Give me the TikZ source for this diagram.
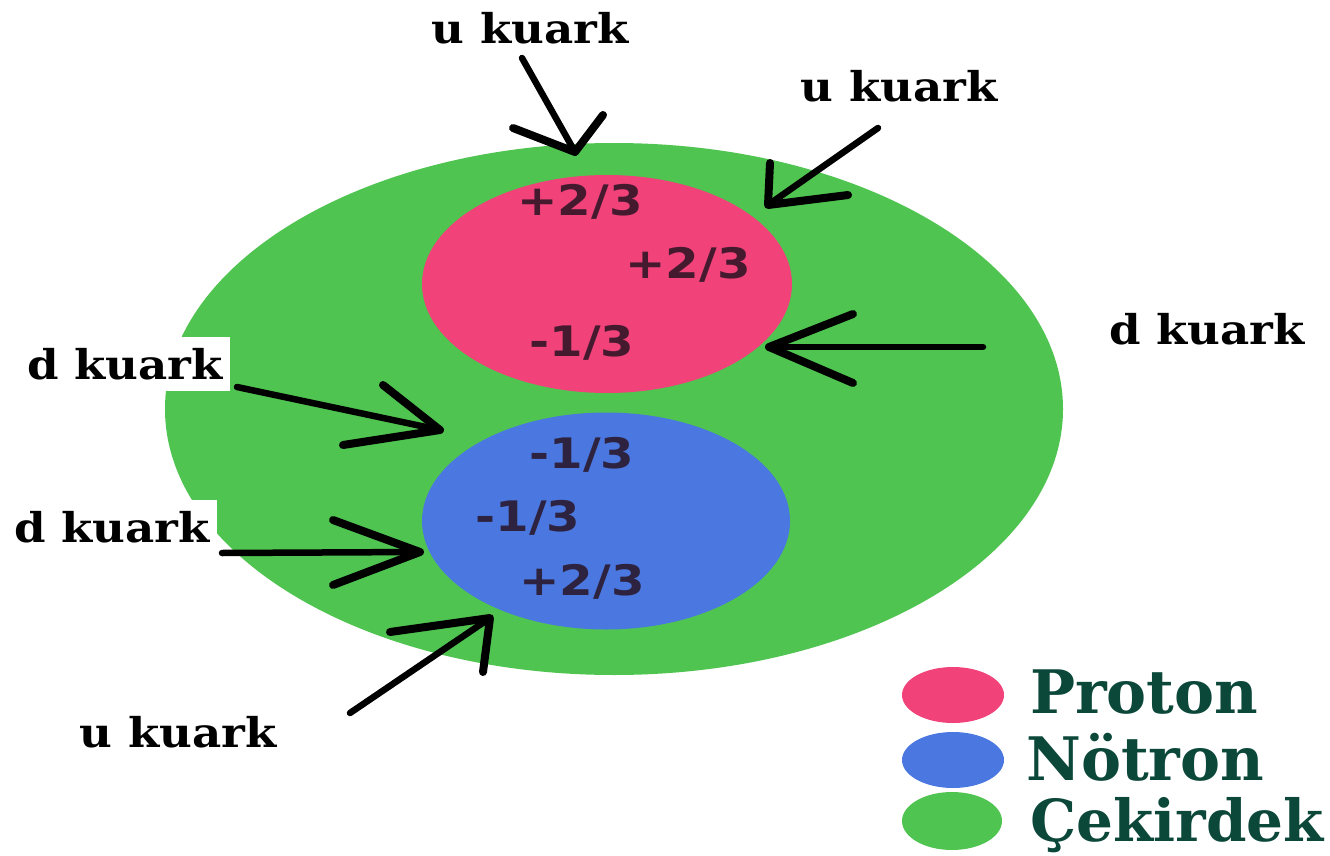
\documentclass[tikz,border=0pt]{standalone}
\usepackage{fontspec}
\usetikzlibrary{shapes.geometric}
\setmainfont{DejaVu Serif}
\newfontfamily\labelfont[FakeStretch=1.1]{DejaVu Serif}
\newfontfamily\legendfont{DejaVu Serif}
\newfontfamily\chargefont[FakeStretch=1.15]{DejaVu Sans}
\definecolor{protonpink}{RGB}{241,66,122}
\definecolor{neutronblue}{RGB}{74,120,224}
\definecolor{nucleusgreen}{RGB}{80,196,80}
\definecolor{legendtext}{RGB}{12,72,58}
\definecolor{chargetext}{RGB}{40,20,35}
\tikzset{
  blob/.style={ellipse, inner sep=0pt, draw=none},
  quark/.style={font=\labelfont\bfseries\fontsize{41}{41}\selectfont, text=black,
                fill=white, inner xsep=7pt, inner ysep=0pt, minimum height=54pt},
  charge/.style={font=\chargefont\bfseries\fontsize{42}{42}\selectfont,
                 text=chargetext, text opacity=0.85, inner sep=0pt},
  legendlabel/.style={font=\legendfont\bfseries\fontsize{60}{60}\selectfont,
                      text=legendtext, inner sep=0pt, anchor=base west},
  shaft/.style={line width=6.5pt, line cap=round, line join=round, black},
  barb/.style={line width=8pt, line cap=round, line join=round, black},
}
\begin{document}
\begin{tikzpicture}[x=1pt, y=-1pt]
\useasboundingbox (0,0) rectangle (1330,856);

% nucleus
\node[blob, fill=nucleusgreen, minimum width=898pt, minimum height=532pt] (nucleus) at (614,409) {};

% quark labels (white boxes cut into the nucleus on the left)
\node[quark] (lu1) at (530,28)  {u kuark};
\node[quark] (lu2) at (899,86)  {u kuark};
\node[quark] (ld1) at (1207,329) {d kuark};
\node[quark] (ld2) at (125,364) {d kuark};
\node[quark] (ld3) at (112,527) {d kuark};
\node[quark] (lu3) at (178,732) {u kuark};

% proton and neutron
\node[blob, fill=protonpink,  minimum width=370pt, minimum height=218pt] (proton)  at (607,284) {};
\node[blob, fill=neutronblue, minimum width=368pt, minimum height=217pt] (neutron) at (606,521) {};

% quark charges
\node[charge] (p1) at (580,202) {+2/3};
\node[charge] (p2) at (688,265) {+2/3};
\node[charge] (p3) at (582,343) {-1/3};
\node[charge] (n1) at (582,455) {-1/3};
\node[charge] (n2) at (528,518) {-1/3};
\node[charge] (n3) at (582,582) {+2/3};

% arrow tails and tips
\coordinate (t1) at (522,58);  \coordinate (h1) at (575,152);
\coordinate (t2) at (878,128); \coordinate (h2) at (768,205);
\coordinate (t3) at (983,347); \coordinate (h3) at (769,347);
\coordinate (t4) at (237,387); \coordinate (h4) at (440,430);
\coordinate (t5) at (222,553); \coordinate (h5) at (420,552);
\coordinate (t6) at (350,713); \coordinate (h6) at (490,618);

% barb ends
\coordinate (b1a) at (513,128); \coordinate (b1b) at (603,115);
\coordinate (b2a) at (770,163); \coordinate (b2b) at (848,195);
\coordinate (b3a) at (853,314); \coordinate (b3b) at (853,383);
\coordinate (b4a) at (383,385); \coordinate (b4b) at (343,445);
\coordinate (b5a) at (333,520); \coordinate (b5b) at (333,585);
\coordinate (b6a) at (390,632); \coordinate (b6b) at (483,672);

\foreach \i in {1,...,6}{
  \draw[shaft] (t\i) -- (h\i);
  \draw[barb] (b\i a) -- (h\i) -- (b\i b);
}

% legend
\node[blob, fill=protonpink,   minimum width=102pt, minimum height=56pt] (kp) at (953,695) {};
\node[blob, fill=neutronblue,  minimum width=102pt, minimum height=56pt] (kn) at (953,760) {};
\node[blob, fill=nucleusgreen, minimum width=100pt, minimum height=58pt] (kc) at (952,821) {};
\node[legendlabel] (lp) at (1030,713) {Proton};
\node[legendlabel] (ln) at (1026,780) {Nötron};
\node[legendlabel, anchor=base east, font=\legendfont\bfseries\fontsize{58}{58}\selectfont]
  (lc) at (1324,841) {Çekirdek};
\end{tikzpicture}
\end{document}
